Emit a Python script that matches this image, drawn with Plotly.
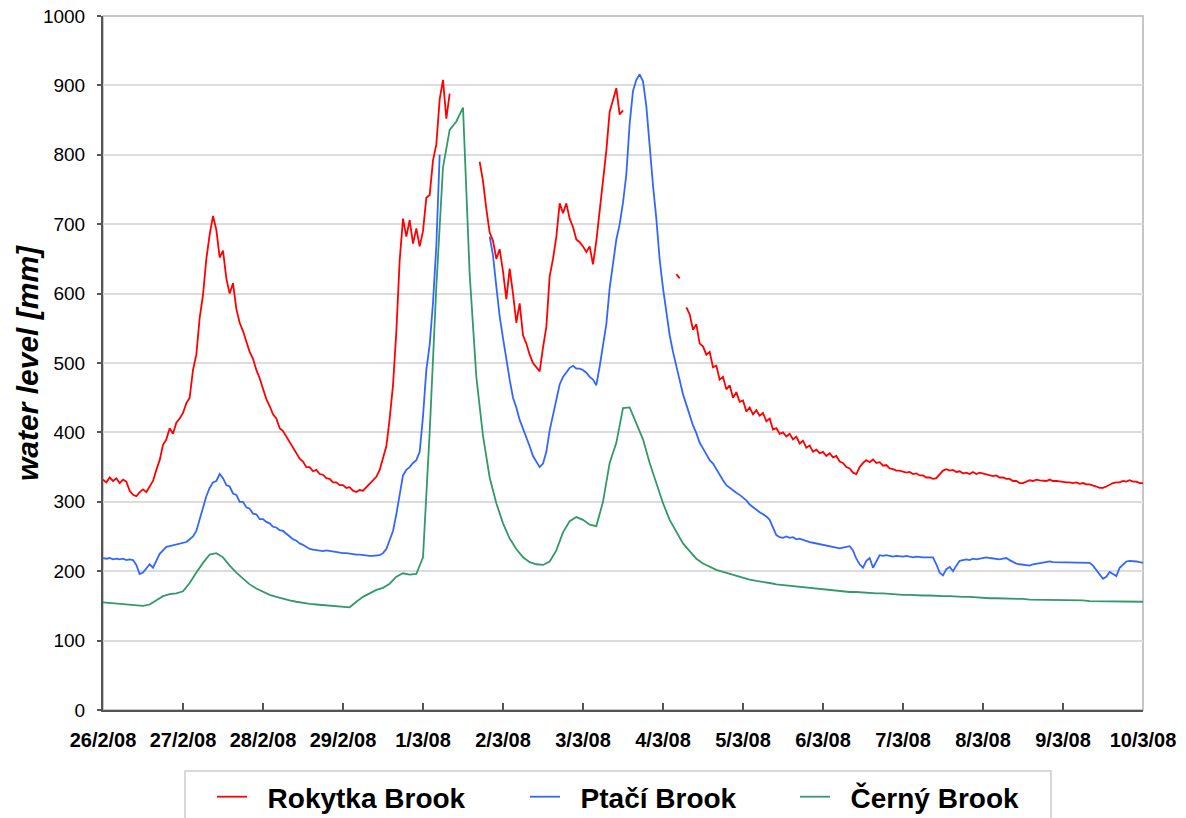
import pandas as pd
import plotly.graph_objects as go

# hourly readings (Rokytka, Ptačí) from 26/2/08 00:00 to 10/3/08 00:00
times_1h = pd.date_range("2008-02-26 00:00", periods=313, freq="1h")
# two-hourly readings (Černý)
times_2h = pd.date_range("2008-02-26 00:00", periods=157, freq="2h")

N = None

rokytka = [
    332, 328, 335, 330, 334, 327, 332, 329, 316, 310, 308, 314,
    318, 314, 322, 330, 346, 360, 382, 390, 406, 398, 414, 420,
    428, 442, 450, 490, 512, 565, 598, 650, 685, 712, 692, 652,
    662, 622, 600, 615, 578, 558, 546, 532, 516, 506, 490, 478,
    464, 448, 438, 426, 420, 406, 402, 394, 388, 378, 370, 362,
    358, 350, 350, 344, 346, 340, 339, 334, 333, 328, 328, 324,
    324, 320, 321, 316, 314, 317, 316, 321, 326, 330, 336, 346,
    365, 380, 420, 468, 545, 648, 708, 682, 706, 672, 694, 668,
    690, 738, 742, 792, 815, 880, 908, 852, 888, N, N, N,
    N, N, N, N, N, 790, 762, 722, 688, 676, 650, 664,
    632, 592, 636, 600, 558, 586, 540, 528, 512, 500, 494, 488,
    522, 552, 625, 650, 682, 730, 716, 730, 708, 696, 678, 674,
    668, 660, 668, 642, 676, 718, 764, 806, 862, 880, 896, 858,
    864, N, N, N, N, N, N, N, N, N, N, N,
    N, N, N, N, 628, 622, N, 580, 570, 548, 556, 528,
    524, 512, 516, 494, 496, 476, 480, 462, 468, 450, 458, 444,
    446, 430, 436, 426, 432, 424, 428, 416, 420, 404, 406, 398,
    400, 394, 398, 390, 394, 384, 388, 378, 381, 372, 375, 370,
    372, 366, 370, 364, 366, 358, 356, 350, 348, 342, 340, 350,
    356, 360, 357, 361, 356, 357, 352, 353, 348, 347, 345, 345,
    344, 342, 343, 340, 341, 338, 338, 335, 335, 333, 334, 340,
    345, 347, 345, 346, 343, 344, 341, 342, 340, 343, 340, 342,
    341, 339, 339, 337, 338, 335, 335, 333, 333, 330, 330, 327,
    327, 329, 331, 330, 332, 331, 331, 330, 332, 330, 330, 329,
    329, 328, 328, 327, 328, 326, 327, 325, 325, 324, 322, 320,
    320, 322, 325, 327, 328, 328, 330, 329, 331, 329, 329, 327,
    327,
]

ptaci = [
    219, 218, 219, 217, 218, 217, 218, 216, 217, 216, 209, 196,
    198, 204, 210, 205, 214, 225, 230, 235, 236, 237, 238, 239,
    240, 242, 246, 250, 258, 276, 292, 308, 320, 328, 330, 340,
    334, 324, 322, 312, 310, 300, 300, 292, 290, 283, 282, 275,
    275, 271, 269, 264, 263, 259, 258, 254, 251, 246, 244, 240,
    238, 235, 232, 231, 230, 230, 229, 230, 229, 229, 228, 227,
    226, 226, 225, 225, 224, 224, 223, 223, 222, 222, 222, 223,
    226, 232, 245, 258, 282, 310, 338, 346, 350, 356, 360, 372,
    423, 490, 526, 587, 669, 800, N, N, N, N, N, N,
    N, N, N, N, N, N, N, N, 682, 655, 610, 567,
    536, 505, 476, 450, 436, 418, 406, 392, 380, 366, 358, 350,
    355, 372, 403, 425, 446, 469, 480, 486, 493, 496, 492, 492,
    490, 486, 480, 476, 468, 495, 528, 556, 608, 645, 678, 700,
    731, 772, 845, 892, 908, 916, 906, 870, 808, 756, 708, 649,
    608, 574, 540, 516, 494, 474, 455, 440, 423, 410, 399, 385,
    377, 369, 360, 355, 347, 337, 331, 324, 320, 316, 313, 310,
    306, 302, 296, 292, 289, 285, 282, 279, 274, 262, 252, 249,
    248, 250, 248, 249, 246, 247, 245, 244, 242, 241, 240, 239,
    239, 238, 237, 236, 235, 233, 234, 235, 236, 230, 218, 210,
    205, 215, 219, 205, 213, 223, 222, 223, 222, 221, 222, 221,
    221, 222, 221, 220, 221, 220, 220, 220, 220, 220, 210, 198,
    194, 203, 206, 200, 208, 215, 216, 217, 216, 218, 217, 218,
    219, 220, 219, 218, 218, 217, 218, 219, 216, 213, 211, 210,
    209, 208, 208, 210, 211, 212, 213, 213, 214, 213, 213, 213,
    213, 212, 213, 213, 212, 213, 212, 212, 212, 208, 202, 196,
    189, 192, 199, 196, 193, 205, 210, 214, 215, 215, 214, 213,
    212,
]

cerny = [
    155, 154, 153, 152, 151, 150, 150, 152, 158, 164,
    167, 168, 171, 183, 198, 212, 224, 226, 220, 208,
    198, 189, 181, 175, 170, 166, 163, 160, 158, 156,
    154, 153, 152, 151, 150, 149, 148, 148, 156, 163,
    168, 173, 176, 182, 192, 197, 195, 196, 220, 400,
    610, 782, 836, 848, 868, 628, 480, 395, 335, 298,
    269, 247, 232, 220, 213, 210, 209, 214, 230, 256,
    272, 278, 274, 267, 265, 300, 356, 385, 435, 436,
    413, 390, 356, 326, 298, 274, 256, 240, 229, 218,
    211, 206, 202, 199, 196, 193, 190, 188, 186, 185,
    183, 181, 180, 179, 178, 176, 175, 174, 173, 172,
    172, 171, 170, 170, 169, 169, 168, 168, 167, 167,
    166, 166, 165, 165, 165, 164, 164, 164, 163, 163,
    163, 162, 162, 161, 161, 161, 160, 160, 160, 159,
    159, 159, 159, 158, 158, 158, 158, 158, 157, 157,
    157, 157, 157, 156, 156, 156, 156,
]

tick_dates = pd.date_range("2008-02-26", "2008-03-10", freq="D")
tick_labels = ["26/2/08", "27/2/08", "28/2/08", "29/2/08", "1/3/08", "2/3/08",
               "3/3/08", "4/3/08", "5/3/08", "6/3/08", "7/3/08", "8/3/08",
               "9/3/08", "10/3/08"]

series_names = ["Rokytka Brook", "Ptačí Brook", "Černý Brook"]
series_colors = ["#ff0000", "#3366ff", "#339966"]

FONT = "Liberation Sans, Arial, sans-serif"

fig = go.Figure()
for xs, vals, name, col, lg in zip([times_1h, times_1h, times_2h],
                                   [rokytka, ptaci, cerny], series_names, series_colors,
                                   ["legend", "legend2", "legend3"]):
    fig.add_trace(go.Scatter(
        x=xs, y=vals, mode="lines", name="\u00a0\u00a0" + name,
        line=dict(color=col, width=1.8), connectgaps=False, legend=lg,
    ))

W, H = 1186, 818
L, R, T, B = 103, 43, 16, 108
pw, ph = W - L - R, H - T - B


def px(xp):
    return (xp - L) / pw


def py(yp):
    return (H - B - yp) / ph


leg_common = dict(orientation="h", yanchor="middle", xanchor="left",
                  bgcolor="rgba(0,0,0,0)", borderwidth=0,
                  font=dict(family=FONT, size=28, color="black", weight="bold"))

fig.update_layout(
    width=W, height=H,
    margin=dict(l=L, r=R, t=T, b=B, autoexpand=False),
    paper_bgcolor="white", plot_bgcolor="white",
    font=dict(family=FONT, color="black"),
    showlegend=True,
    legend=dict(x=px(212), y=py(797), **leg_common),
    legend2=dict(x=px(525), y=py(797), **leg_common),
    legend3=dict(x=px(795), y=py(797), **leg_common),
    xaxis=dict(
        type="date", range=[tick_dates[0], tick_dates[-1]],
        tickvals=list(tick_dates), ticktext=tick_labels,
        ticks="inside", ticklen=7, tickwidth=1.5, tickcolor="#555",
        showline=True, linecolor="#555", linewidth=2,
        showgrid=False, zeroline=False, automargin=False,
        tickfont=dict(family=FONT, size=20, color="black", weight="bold"),
        ticklabelstandoff=11,
    ),
    yaxis=dict(
        range=[0, 1000], dtick=100, tick0=0,
        ticks="outside", ticklen=4, tickwidth=1.5, tickcolor="#555",
        showline=True, linecolor="#555", linewidth=2,
        showgrid=True, gridcolor="#dcdcdc", gridwidth=1.5,
        zeroline=False, automargin=False,
        tickfont=dict(family=FONT, size=19, color="black"),
        ticklabelstandoff=8,
    ),
    shapes=[
        dict(type="rect", xref="paper", yref="paper", x0=0, x1=1, y0=0, y1=1,
             line=dict(color="#b4b4b4", width=1.5), layer="below"),
        dict(type="rect", xref="paper", yref="paper",
             x0=px(185), x1=px(1051), y0=py(771), y1=py(840),
             line=dict(color="#cccccc", width=1.5), layer="below"),
    ],
    annotations=[
        dict(text="water level [mm]", xref="paper", yref="paper",
             x=px(27), y=0.5, xanchor="center", yanchor="middle",
             textangle=-90, showarrow=False,
             font=dict(family=FONT, size=30, color="black", weight="bold", style="italic")),
    ],
)

fig.write_html("out.html")
